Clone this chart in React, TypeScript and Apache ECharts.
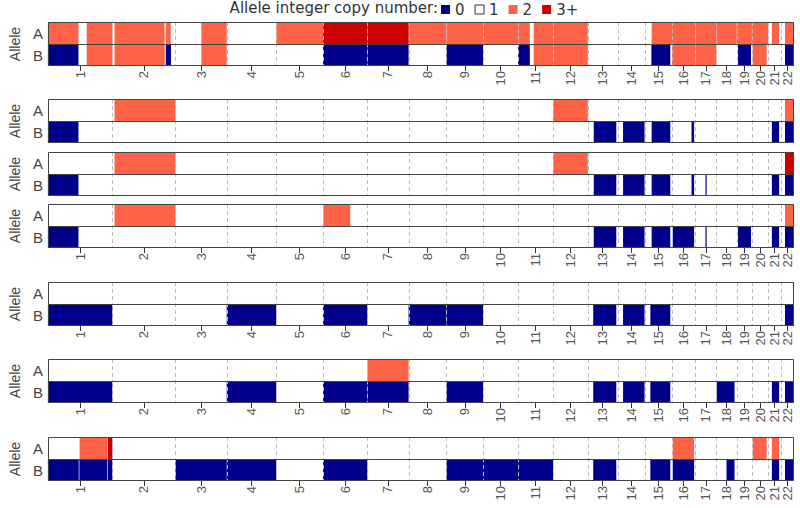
import { useEffect, useRef } from 'react';
import * as echarts from 'echarts';

// [chromosome, start (Mb), end (Mb), copy-number level index into COPY_LEVELS]
type Seg = [number, number, number, number];

const CHROM_LABELS = ['1', '2', '3', '4', '5', '6', '7', '8', '9', '10', '11', '12', '13', '14', '15', '16', '17', '18', '19', '20', '21', '22'];
const CHROM_LENGTHS = [249.25, 243.2, 198.02, 191.15, 180.92, 171.12, 159.14, 146.36, 141.21, 135.53, 135.01, 133.85, 115.17, 107.35, 102.53, 90.35, 81.2, 78.08, 59.13, 63.03, 48.13, 51.3];
const ROW_LABELS = ['B', 'A'];
const COPY_LEVELS = ['0', '1', '2', '3+'];
const COPY_COLORS = ['#00008B', '#FFFFFF', '#FF6347', '#CD0000'];
const LEGEND_TITLE = 'Allele integer copy number:';
const AXIS_NAME = 'Allele';

const S1_A: Seg[] = [[1, 0, 118, 2], [1, 150, 249.25, 2], [2, 8, 201, 2], [2, 206, 225, 2], [3, 100, 198, 2], [5, 0, 180.92, 2], [6, 0, 171.12, 3], [7, 0, 159.14, 3], [8, 0, 146.36, 2], [9, 0, 141.21, 2], [10, 0, 135.53, 2], [11, 0, 45, 2], [11, 60, 135.01, 2], [12, 0, 133.85, 2], [15, 24, 102.53, 2], [16, 0, 90.35, 2], [17, 0, 81.2, 2], [18, 0, 78.08, 2], [19, 0, 59.13, 2], [20, 0, 63.03, 2], [21, 14, 42, 2], [22, 16.5, 51.3, 2]];
const S1_B: Seg[] = [[1, 0, 118, 0], [1, 150, 249.25, 2], [2, 8, 202, 2], [2, 206, 226, 0], [3, 100, 198, 2], [6, 0, 171.12, 0], [7, 0, 159.14, 0], [9, 0, 141.21, 0], [11, 0, 45, 0], [11, 60, 135.01, 2], [12, 0, 133.85, 2], [15, 23, 96, 0], [16, 0, 90.35, 2], [17, 0, 81.2, 2], [19, 5.5, 55.5, 0], [20, 3, 57, 2], [22, 16.5, 51.3, 0]];

const S2_A: Seg[] = [[2, 8, 243.2, 2], [12, 0, 133.85, 2], [22, 16.5, 51.3, 2]];
const S2_B: Seg[] = [[1, 0, 118, 0], [13, 23, 110, 0], [14, 21, 104, 0], [15, 24, 96, 0], [16, 75.5, 85.5, 0], [21, 14, 42, 0], [22, 16.5, 51.3, 0]];

const S3_A: Seg[] = [[2, 8, 243.2, 2], [12, 0, 133.85, 2], [22, 16.5, 51.3, 3]];
const S3_B: Seg[] = [[1, 0, 118, 0], [13, 23, 110, 0], [14, 21, 104, 0], [15, 24, 96, 0], [16, 75.5, 85.5, 0], [17, 39, 41.5, 0], [21, 14, 42, 0], [22, 16.5, 51.3, 0]];

const S4_A: Seg[] = [[2, 8, 243.2, 2], [6, 1, 105, 2], [22, 16.5, 51.3, 2]];
const S4_B: Seg[] = [[1, 0, 118, 0], [13, 23, 110, 0], [14, 21, 104, 0], [15, 24, 96, 0], [16, 3, 85.5, 0], [17, 39, 41.5, 0], [19, 5.5, 55.5, 0], [21, 14, 42, 0], [22, 16.5, 51.3, 0]];

const S5_A: Seg[] = [];
const S5_B: Seg[] = [[1, 0, 249.25, 0], [4, 0, 191.15, 0], [6, 0, 171.12, 0], [8, 0, 146.36, 0], [9, 0, 141.21, 0], [13, 21, 110, 0], [14, 21, 104, 0], [15, 19, 96, 0], [22, 16.5, 51.3, 0]];

const S6_A: Seg[] = [[7, 0, 159.14, 2]];
const S6_B: Seg[] = [[1, 0, 249.25, 0], [4, 0, 191.15, 0], [6, 0, 171.12, 0], [7, 0, 159.14, 0], [9, 0, 141.21, 0], [13, 21, 110, 0], [14, 21, 104, 0], [15, 19, 96, 0], [18, 1, 70, 0], [21, 14, 42, 0], [22, 16.5, 51.3, 0]];

const S7_A: Seg[] = [[1, 122.5, 229, 2], [1, 231, 249.25, 3], [16, 3, 85.5, 2], [20, 3, 57, 2], [21, 14, 42, 2]];
const S7_B: Seg[] = [[1, 0, 119, 0], [1, 121.5, 229, 0], [1, 231, 249.25, 0], [3, 0, 198.02, 0], [4, 0, 191.15, 0], [6, 0, 171.12, 0], [9, 0, 141.21, 0], [10, 0, 135.53, 0], [11, 0, 135.01, 0], [13, 21, 110, 0], [15, 19, 96, 0], [16, 3, 85.5, 0], [18, 39, 70, 0], [21, 14, 42, 0], [22, 16.5, 51.3, 0]];

const SAMPLES_A = [S1_A, S2_A, S3_A, S4_A, S5_A, S6_A, S7_A];
const SAMPLES_B = [S1_B, S2_B, S3_B, S4_B, S5_B, S6_B, S7_B];

// layout
const PANEL_TOPS = [22, 99, 152, 204, 282, 359, 437];
const PANEL_HEIGHT = 44;
const SHOW_TICKS = [true, false, false, true, true, true, true];
const TITLE_FONT = 'DejaVu Sans';
const AXIS_FONT = 'Liberation Sans';

const OFFSETS: number[] = [];
{
  let acc = 0;
  for (const l of CHROM_LENGTHS) {
    OFFSETS.push(acc);
    acc += l;
  }
}
const TOTAL = CHROM_LENGTHS.reduce((a, b) => a + b, 0);
const CENTERS = CHROM_LENGTHS.map((l, i) => OFFSETS[i] + l / 2);
const BOUNDARIES = OFFSETS.slice(1);

function nearestChrom(v: number) {
  let best = 0;
  let bd = Infinity;
  CENTERS.forEach((c, i) => {
    const d = Math.abs(c - v);
    if (d < bd) {
      bd = d;
      best = i;
    }
  });
  return best;
}

function buildOption() {
  const grids = PANEL_TOPS.map((top) => ({ left: 42, right: 6, top, height: PANEL_HEIGHT }));
  const xAxes = PANEL_TOPS.map((_, i) => ({
    type: 'value',
    gridIndex: i,
    min: 0,
    max: TOTAL,
    splitLine: { show: false },
    axisLine: { show: false },
    axisTick: { show: SHOW_TICKS[i], customValues: CENTERS, length: 5, lineStyle: { color: '#333', width: 1 } },
    axisLabel: {
      show: SHOW_TICKS[i],
      customValues: CENTERS,
      rotate: 90,
      margin: 5,
      fontSize: 13,
      color: '#555',
      fontFamily: AXIS_FONT,
      formatter: (v: number) => CHROM_LABELS[nearestChrom(v)],
    },
  }));
  const yAxes = PANEL_TOPS.map((_, i) => ({
    type: 'category',
    gridIndex: i,
    data: ROW_LABELS,
    axisLine: { show: false },
    axisTick: { show: false },
    splitLine: { show: false },
    axisLabel: { fontSize: 15, color: '#444', margin: 5, fontFamily: AXIS_FONT },
    name: AXIS_NAME,
    nameLocation: 'middle',
    nameRotate: 90,
    nameGap: 23,
    nameTextStyle: { fontSize: 14, color: '#444', fontFamily: AXIS_FONT },
  }));

  const series: any[] = [];
  PANEL_TOPS.forEach((_, i) => {
    [0, 2, 3].forEach((lvl) => {
      const data: number[][] = [];
      [SAMPLES_B[i], SAMPLES_A[i]].forEach((segs, row) => {
        segs.forEach(([c, s, e, cn]) => {
          if (cn === lvl) data.push([OFFSETS[c - 1] + s, OFFSETS[c - 1] + e, row]);
        });
      });
      series.push({
        type: 'custom',
        name: COPY_LEVELS[lvl],
        xAxisIndex: i,
        yAxisIndex: i,
        z: 2,
        itemStyle: { color: COPY_COLORS[lvl] },
        encode: { x: [0, 1], y: 2 },
        data,
        renderItem: (params: any, api: any) => {
          const p0 = api.coord([api.value(0), api.value(2)]);
          const p1 = api.coord([api.value(1), api.value(2)]);
          const h = api.size([0, 1])[1];
          return {
            type: 'rect',
            shape: { x: p0[0], y: p0[1] - h / 2, width: Math.max(p1[0] - p0[0], 1.2), height: h },
            style: { fill: api.visual('color') },
          };
        },
      });
    });
    series.push({
      type: 'custom',
      name: 'boundaries',
      xAxisIndex: i,
      yAxisIndex: i,
      z: 3,
      silent: true,
      encode: { x: 0, y: 1 },
      data: BOUNDARIES.map((b) => [b, 0]),
      renderItem: (params: any, api: any) => {
        const cs = params.coordSys;
        const x = Math.round(api.coord([api.value(0), 0])[0]) + 0.5;
        return {
          type: 'line',
          shape: { x1: x, y1: cs.y, x2: x, y2: cs.y + cs.height },
          style: { stroke: '#bdbdbd', lineWidth: 1, lineDash: [4, 3] },
        };
      },
    });
    series.push({
      type: 'custom',
      name: 'frame',
      xAxisIndex: i,
      yAxisIndex: i,
      z: 4,
      silent: true,
      encode: { x: 0, y: 1 },
      data: [[0, 0]],
      renderItem: (params: any) => {
        const cs = params.coordSys;
        const x = Math.round(cs.x) + 0.5;
        const y = Math.round(cs.y) + 0.5;
        const w = Math.round(cs.width) - 1;
        const h = Math.round(cs.height) - 1;
        const mid = Math.round(cs.y + cs.height / 2) + 0.5;
        return {
          type: 'group',
          children: [
            { type: 'rect', shape: { x, y, width: w, height: h }, style: { fill: 'none', stroke: '#444', lineWidth: 1 } },
            { type: 'line', shape: { x1: x, y1: mid, x2: x + w, y2: mid }, style: { stroke: '#444', lineWidth: 1 } },
          ],
        };
      },
    });
  });
  series.push({
    type: 'custom',
    name: COPY_LEVELS[1],
    xAxisIndex: 0,
    yAxisIndex: 0,
    itemStyle: { color: COPY_COLORS[1], borderColor: '#333', borderWidth: 1 },
    data: [],
    renderItem: () => null,
  });

  return {
    animation: false,
    backgroundColor: '#ffffff',
    title: {
      text: LEGEND_TITLE,
      right: 362,
      top: 0,
      padding: 0,
      textStyle: { fontSize: 15, fontWeight: 'normal', color: '#333', fontFamily: TITLE_FONT },
    },
    legend: {
      left: 441,
      top: 2,
      padding: 0,
      itemWidth: 9,
      itemHeight: 9,
      itemGap: 10,
      selectedMode: false,
      textStyle: { fontSize: 15, color: '#333', fontFamily: TITLE_FONT },
      data: COPY_LEVELS.map((name, k) => ({
        name,
        icon: 'rect',
        itemStyle: k === 1 ? { color: '#fff', borderColor: '#333', borderWidth: 1 } : { color: COPY_COLORS[k] },
      })),
    },
    grid: grids,
    xAxis: xAxes,
    yAxis: yAxes,
    series,
  };
}

export default function App() {
  const ref = useRef<HTMLDivElement>(null);
  useEffect(() => {
    if (!ref.current) return;
    const chart = echarts.init(ref.current, null, { renderer: 'svg' });
    chart.setOption(buildOption() as any);
    return () => chart.dispose();
  }, []);
  return <div ref={ref} style={{ position: 'absolute', left: 0, top: 0, width: 800, height: 508 }} />;
}
